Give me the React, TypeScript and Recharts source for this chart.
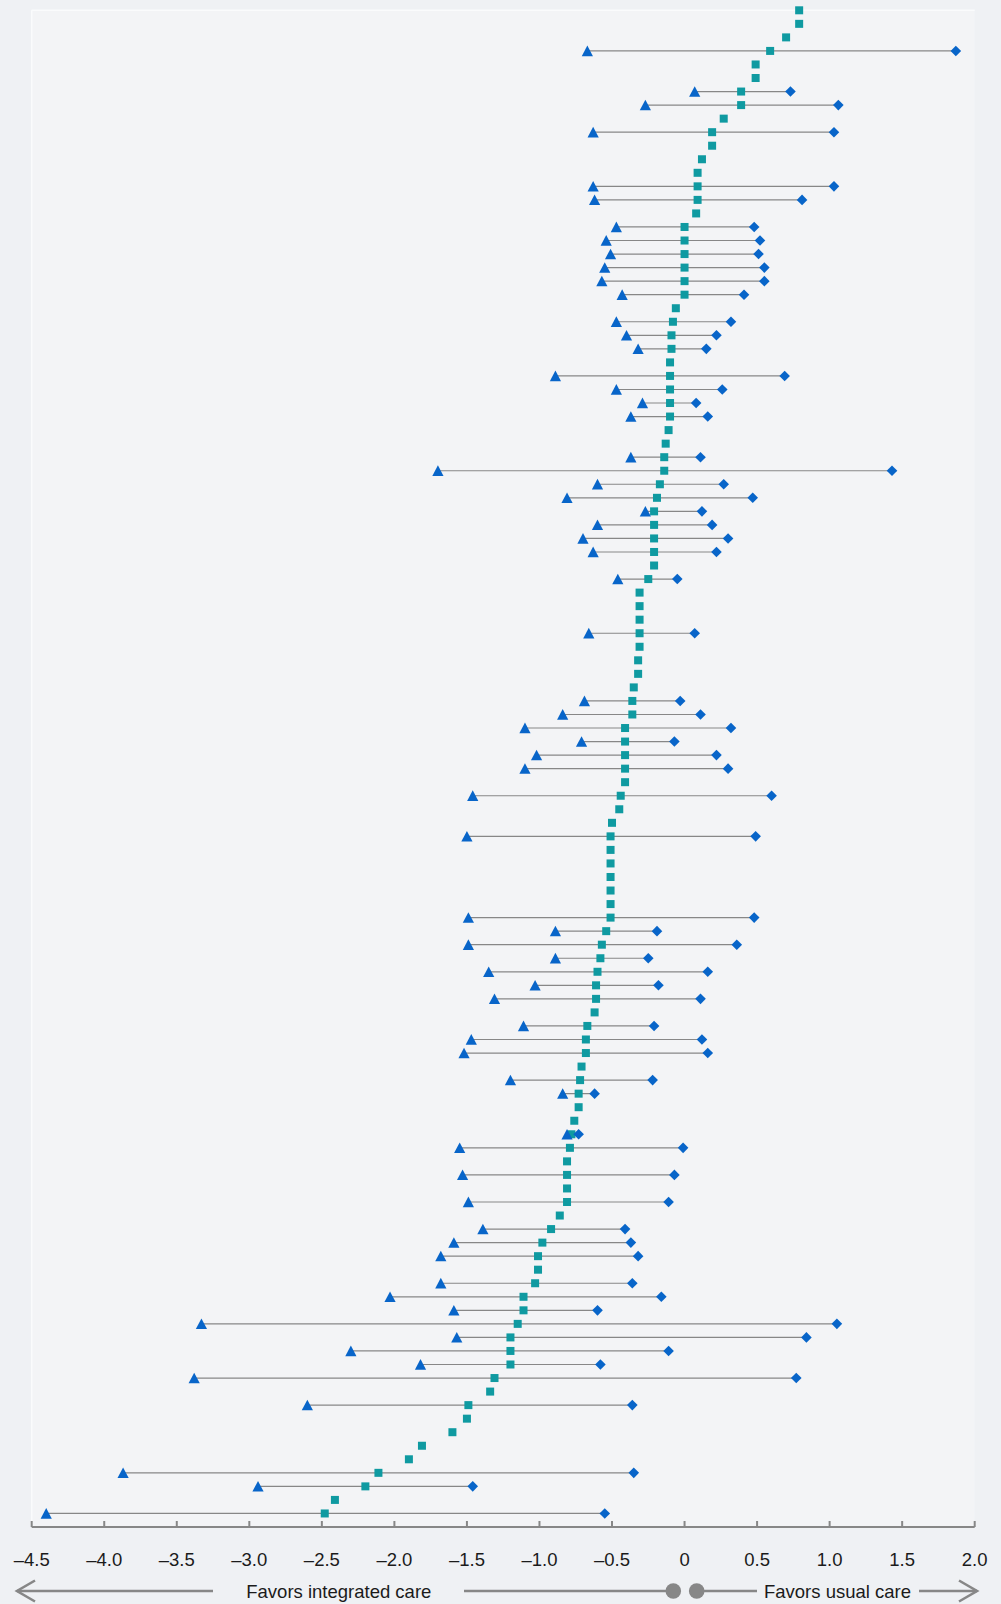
import React from 'react';
import { ScatterChart, Scatter, XAxis, YAxis, ReferenceLine, ReferenceArea } from 'recharts';

// point estimate per row, top row first
const estimates = [
  0.79, 0.79, 0.7, 0.59, 0.49, 0.49, 0.39, 0.39, 0.27, 0.19,
  0.19, 0.12, 0.09, 0.09, 0.09, 0.08, 0.0, 0.0, 0.0, 0.0,
  0.0, 0.0, -0.06, -0.08, -0.09, -0.09, -0.1, -0.1, -0.1, -0.1,
  -0.1, -0.11, -0.13, -0.14, -0.14, -0.17, -0.19, -0.21, -0.21, -0.21,
  -0.21, -0.21, -0.25, -0.31, -0.31, -0.31, -0.31, -0.31, -0.32, -0.32,
  -0.35, -0.36, -0.36, -0.41, -0.41, -0.41, -0.41, -0.41, -0.44, -0.45,
  -0.5, -0.51, -0.51, -0.51, -0.51, -0.51, -0.51, -0.51, -0.54, -0.57,
  -0.58, -0.6, -0.61, -0.61, -0.62, -0.67, -0.68, -0.68, -0.71, -0.72,
  -0.73, -0.73, -0.76, -0.78, -0.79, -0.81, -0.81, -0.81, -0.81, -0.86,
  -0.92, -0.98, -1.01, -1.01, -1.03, -1.11, -1.11, -1.15, -1.2, -1.2,
  -1.2, -1.31, -1.34, -1.49, -1.5, -1.6, -1.81, -1.9, -2.11, -2.2,
  -2.41, -2.48,
];

// rows that have an interval, with its lower and upper ends
const ciRows = [
  3, 6, 7, 9, 13, 14, 16, 17, 18, 19, 20, 21, 23, 24, 25, 27, 28, 29, 30, 33,
  34, 35, 36, 37, 38, 39, 40, 42, 46, 51, 52, 53, 54, 55, 56, 58, 61, 67, 68, 69,
  70, 71, 72, 73, 75, 76, 77, 79, 80, 83, 84, 86, 88, 90, 91, 92, 94, 95, 96, 97,
  98, 99, 100, 101, 103, 108, 109, 111,
];
const ciLow = [
  -0.67, 0.07, -0.27, -0.63, -0.63, -0.62, -0.47, -0.54, -0.51, -0.55, -0.57, -0.43, -0.47, -0.4, -0.32, -0.89, -0.47, -0.29, -0.37, -0.37,
  -1.7, -0.6, -0.81, -0.27, -0.6, -0.7, -0.63, -0.46, -0.66, -0.69, -0.84, -1.1, -0.71, -1.02, -1.1, -1.46, -1.5, -1.49, -0.89, -1.49,
  -0.89, -1.35, -1.03, -1.31, -1.11, -1.47, -1.52, -1.2, -0.84, -0.81, -1.55, -1.53, -1.49, -1.39, -1.59, -1.68, -1.68, -2.03, -1.59, -3.33,
  -1.57, -2.3, -1.82, -3.38, -2.6, -3.87, -2.94, -4.4,
];
const ciHigh = [
  1.87, 0.73, 1.06, 1.03, 1.03, 0.81, 0.48, 0.52, 0.51, 0.55, 0.55, 0.41, 0.32, 0.22, 0.15, 0.69, 0.26, 0.08, 0.16, 0.11,
  1.43, 0.27, 0.47, 0.12, 0.19, 0.3, 0.22, -0.05, 0.07, -0.03, 0.11, 0.32, -0.07, 0.22, 0.3, 0.6, 0.49, 0.48, -0.19, 0.36,
  -0.25, 0.16, -0.18, 0.11, -0.21, 0.12, 0.16, -0.22, -0.62, -0.73, -0.01, -0.07, -0.11, -0.41, -0.37, -0.32, -0.36, -0.16, -0.6, 1.05,
  0.84, -0.11, -0.58, 0.77, -0.36, -0.35, -1.46, -0.55,
];

const tickValues = [-4.5, -4, -3.5, -3, -2.5, -2, -1.5, -1, -0.5, 0, 0.5, 1, 1.5, 2];
const tickLabels = ['–4.5', '–4.0', '–3.5', '–3.0', '–2.5', '–2.0', '–1.5', '–1.0', '–0.5', '0', '0.5', '1.0', '1.5', '2.0'];
const legendLabels = ['Favors integrated care', 'Favors usual care'];

const TEAL = '#0f9aa1';
const BLUE = '#0865c9';
const GRAY = '#878787';
const FONT = '"Liberation Sans", Arial, sans-serif';

const squareData = estimates.map((v, i) => ({ x: v, y: i }));
const lowData = ciRows.map((r, k) => ({ x: ciLow[k], y: r }));
const highData = ciRows.map((r, k) => ({ x: ciHigh[k], y: r }));

const SquareMark = ({ cx, cy }: any) => (
  <rect x={cx - 4} y={cy - 4} width={8} height={8} fill={TEAL} />
);
const TriangleMark = ({ cx, cy }: any) => (
  <polygon points={`${cx},${cy - 5.4} ${cx + 5.6},${cy + 5.2} ${cx - 5.6},${cy + 5.2}`} fill={BLUE} />
);
const DiamondMark = ({ cx, cy }: any) => (
  <polygon points={`${cx},${cy - 5.3} ${cx + 5.3},${cy} ${cx},${cy + 5.3} ${cx - 5.3},${cy}`} fill={BLUE} />
);

const AxisTick = ({ x, y, payload }: any) => (
  <g>
    <line x1={x} x2={x} y1={y} y2={y - 6} stroke={GRAY} strokeWidth={2} />
    <text x={x} y={y + 38.5} textAnchor="middle" fontSize={18.5} fontFamily={FONT} fill="#1b1b1b">
      {tickLabels[tickValues.indexOf(payload.value)]}
    </text>
  </g>
);

const Legend = () => (
  <svg width={1001} height={44} style={{ position: 'absolute', left: 0, top: 1560 }}>
    <g stroke={GRAY} strokeWidth={2.6} fill="none">
      <line x1={17} x2={213} y1={31} y2={31} />
      <polyline points="35,20.5 17,31 35,41.5" />
      <line x1={464} x2={673} y1={31} y2={31} />
      <line x1={697} x2={757} y1={31} y2={31} />
      <line x1={919} x2={977} y1={31} y2={31} />
      <polyline points="959,20.5 977,31 959,41.5" />
    </g>
    <circle cx={673.3} cy={31} r={7.8} fill={GRAY} />
    <circle cx={696.7} cy={31} r={7.8} fill={GRAY} />
    <text x={338.8} y={37.5} textAnchor="middle" fontSize={18.5} fontFamily={FONT} fill="#1b1b1b">
      {legendLabels[0]}
    </text>
    <text x={837.5} y={37.5} textAnchor="middle" fontSize={18.5} fontFamily={FONT} fill="#1b1b1b">
      {legendLabels[1]}
    </text>
  </svg>
);

export default function App() {
  return (
    <div style={{ position: 'absolute', left: 0, top: 0, width: 1001, height: 1604, background: '#eff1f4' }}>
      <ScatterChart width={1001} height={1604} margin={{ top: 10.3, right: 26.3, bottom: 17, left: 31.7 }}>
        <XAxis
          type="number"
          dataKey="x"
          domain={[-4.5, 2]}
          ticks={tickValues}
          interval={0}
          allowDataOverflow
          height={60}
          axisLine={{ stroke: GRAY, strokeWidth: 2 }}
          tickLine={false}
          tickSize={0}
          tickMargin={0}
          tick={<AxisTick />}
        />
        <YAxis type="number" dataKey="y" domain={[0, 112]} reversed hide width={0} />
        <ReferenceArea x1={-4.5} x2={2} y1={0} y2={112} fill="#f3f4f6" fillOpacity={1} stroke="none" />
        <ReferenceLine y={0} stroke="#fafbfc" strokeWidth={1.5} />
        <ReferenceLine x={-4.5} stroke="#fafbfc" strokeWidth={1.5} />
        {ciRows.map((r, k) => (
          <ReferenceLine
            key={r}
            segment={[{ x: ciLow[k], y: r }, { x: ciHigh[k], y: r }]}
            stroke={GRAY}
            strokeWidth={1.2}
          />
        ))}
        <Scatter data={squareData} shape={<SquareMark />} isAnimationActive={false} />
        <Scatter data={lowData} shape={<TriangleMark />} isAnimationActive={false} />
        <Scatter data={highData} shape={<DiamondMark />} isAnimationActive={false} />
      </ScatterChart>
      <Legend />
    </div>
  );
}
